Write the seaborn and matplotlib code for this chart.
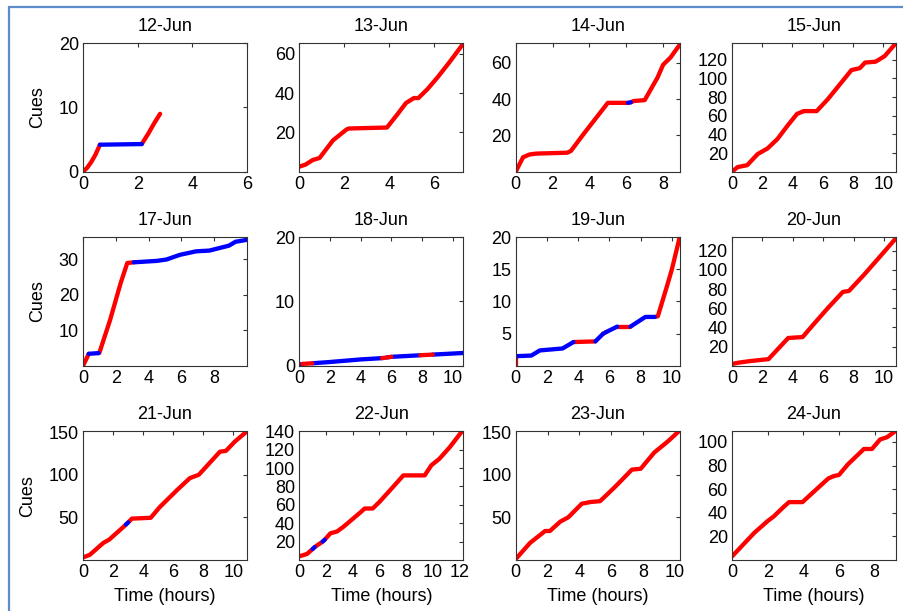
import pandas as pd
import seaborn as sns
import matplotlib.pyplot as plt
from matplotlib.lines import Line2D

# Datos: horas, cues acumulados y color de cada tramo (r/b)
days = ['12-Jun', '13-Jun', '14-Jun', '15-Jun',
        '17-Jun', '18-Jun', '19-Jun', '20-Jun',
        '21-Jun', '22-Jun', '23-Jun', '24-Jun']

hours = [
    [0, 0.15, 0.3, 0.45, 0.62, 2.15, 2.4, 2.6, 2.82],
    [0, 0.27, 0.6, 0.9, 1.5, 2.1, 2.2, 3.9, 4.35, 4.75, 5.1, 5.3, 5.7, 6.15, 6.7, 7.25],
    [0, 0.4, 0.75, 1.1, 2.8, 3.0, 3.7, 5.0, 6.1, 6.25, 6.4, 7.0, 7.7, 8.0, 8.4, 8.9],
    [0, 0.37, 1.0, 1.7, 2.35, 3.0, 3.7, 4.3, 4.75, 5.6, 6.35, 6.8, 7.35, 7.9, 8.45, 8.8, 9.5, 10.1, 10.85],
    [0, 0.25, 0.35, 0.95, 1.0, 1.65, 2.3, 2.7, 3.1, 4.5, 5.1, 5.9, 6.9, 7.7, 8.9, 9.3, 9.95],
    [0, 0.2, 0.85, 2, 4, 5.4, 5.7, 5.85, 6.0, 7.9, 8.7, 10.7],
    [0, 0, 1.0, 1.55, 3.0, 3.7, 5.1, 5.6, 5.75, 6.5, 7.35, 8.3, 8.9, 9.1, 9.7, 10.0, 10.5],
    [0, 0.5, 1.2, 2.4, 3.7, 4.65, 5.3, 6.3, 7.3, 7.7, 8.7, 9.7, 10.8],
    [0, 0.45, 1.35, 1.75, 2.7, 2.85, 3.0, 3.25, 4.5, 5.1, 6.25, 7.1, 7.7, 9.1, 9.5, 10.1, 10.9],
    [0, 0.58, 1.0, 1.15, 1.75, 1.9, 2.33, 2.83, 3.3, 4.6, 4.9, 5.5, 6.0, 7.0, 7.8, 9.4, 9.9, 10.5, 11.3, 12.2],
    [0, 0.9, 1.85, 2.15, 2.8, 3.3, 4.15, 4.7, 5.3, 6.2, 7.3, 7.85, 8.7, 9.55, 10.25],
    [0, 0.5, 1.25, 2.0, 2.35, 2.9, 3.2, 3.95, 4.6, 5.4, 5.7, 6.0, 6.5, 7.4, 7.85, 8.3, 8.7, 9.15],
]

cues = [
    [0, 0.6, 1.5, 2.6, 4.2, 4.3, 6.0, 7.5, 9.0],
    [2.6, 3.6, 6, 7, 16, 21.5, 22, 22.5, 29, 35, 37.5, 37.5, 42, 48, 56, 64.5],
    [0, 8, 9.5, 10, 10.5, 11.5, 21, 38, 38, 38.3, 39, 39.5, 52, 59, 63, 70],
    [0, 5, 7, 19, 25, 35, 50, 62, 65, 65, 78, 87, 98, 109, 111, 117, 118, 124, 138],
    [0, 2.4, 3.4, 3.6, 3.7, 12.9, 23.4, 29, 29.2, 29.6, 30, 31.3, 32.3, 32.5, 33.9, 35, 35.5],
    [0.2, 0.3, 0.4, 0.6, 1.0, 1.2, 1.3, 1.35, 1.4, 1.65, 1.75, 2.0],
    [0, 1.5, 1.6, 2.4, 2.7, 3.7, 3.8, 5.0, 5.2, 6.1, 6.1, 7.6, 7.6, 7.7, 12.5, 15, 20],
    [2, 3.5, 5, 7, 29, 30, 42, 60, 77, 78, 95, 113, 133],
    [3, 6, 20, 24, 39, 41.5, 44, 48.5, 49.5, 62, 82, 96, 100, 127, 128, 139, 151],
    [4, 6.6, 12, 14, 20, 22, 29, 31, 36, 52, 56, 56, 63, 79, 92, 92, 103, 110, 123, 140],
    [1, 20, 34, 34, 45, 50, 66, 68, 69, 85, 106, 107, 126, 139, 151],
    [3, 11, 23, 33, 37, 45, 49, 49, 58, 69, 71, 72, 81, 94, 94, 102, 104, 109],
]

# color de cada tramo entre puntos consecutivos
states = [
    'rrrrbrrr',
    'r' * 15,
    'rrrrrrrrbrrrrrr',
    'r' * 18,
    'rrbrrrrrbbbbbbbb',
    'brbbbrbrbrb',
    'rbbbbrbrbrbbrrrr',
    'r' * 12,
    'rrrrrbrrrrrrrrrr',
    'rrbrbrrrrrrrrrrrrrr',
    'r' * 14,
    'r' * 17,
]

xlims = [6, 7.3, 8.9, 10.85, 10, 10.7, 10.5, 10.8, 10.9, 12.3, 10.3, 9.2]
ylims = [20, 65.5, 71, 138, 36.3, 20, 20, 134, 151, 140, 151, 109]
xticks = [[0, 2, 4, 6], [0, 2, 4, 6], [0, 2, 4, 6, 8], [0, 2, 4, 6, 8, 10],
          [0, 2, 4, 6, 8], [0, 2, 4, 6, 8, 10], [0, 2, 4, 6, 8, 10], [0, 2, 4, 6, 8, 10],
          [0, 2, 4, 6, 8, 10], [0, 2, 4, 6, 8, 10, 12], [0, 2, 4, 6, 8, 10], [0, 2, 4, 6, 8]]
yticks = [[0, 10, 20], [20, 40, 60], [20, 40, 60], [20, 40, 60, 80, 100, 120],
          [10, 20, 30], [0, 10, 20], [5, 10, 15, 20], [20, 40, 60, 80, 100, 120],
          [50, 100, 150], [20, 40, 60, 80, 100, 120, 140], [50, 100, 150], [20, 40, 60, 80, 100]]


def tramos(t, c, s):
    # agrupa tramos consecutivos del mismo color en una sola línea
    recs = []
    run = -1
    for j, col in enumerate(s):
        if j == 0 or col != s[j - 1]:
            run += 1
            recs.append((t[j], c[j], run, col))
        recs.append((t[j + 1], c[j + 1], run, col))
    return pd.DataFrame(recs, columns=['hours', 'cues', 'run', 'state'])


sns.set_theme(style='white')
plt.rcParams['font.family'] = ['Liberation Sans', 'DejaVu Sans']
plt.rcParams['axes.edgecolor'] = '#333333'
plt.rcParams['axes.linewidth'] = 0.8
plt.rcParams['text.color'] = 'black'
plt.rcParams['axes.labelcolor'] = 'black'

fs = 13

fig, axes = plt.subplots(3, 4, figsize=(9.04, 6.11), dpi=100)
fig.subplots_adjust(left=0.0918, right=0.9912, top=0.9296, bottom=0.0835,
                    wspace=0.319, hspace=0.508)

for k, ax in enumerate(axes.flat):
    df = tramos(hours[k], cues[k], states[k])
    sns.lineplot(data=df, x='hours', y='cues', hue='state', units='run',
                 estimator=None, sort=False, legend=False,
                 palette={'r': '#ff0000', 'b': '#0000ff'},
                 linewidth=3.1, solid_capstyle='round', ax=ax)
    ax.set_xlim(0, xlims[k])
    ax.set_ylim(0, ylims[k])
    ax.set_xticks(xticks[k])
    ax.set_yticks(yticks[k])
    ax.tick_params(direction='in', length=3, width=0.8, top=True, right=True,
                   labelsize=fs, colors='#333333', labelcolor='black', pad=3)
    ax.set_title(days[k], fontsize=fs, pad=9, color='black')
    ax.set_xlabel('Time (hours)' if k >= 8 else '', fontsize=fs, labelpad=5)
    ax.set_ylabel('Cues' if k % 4 == 0 else '', fontsize=fs, labelpad=9)

# marco azul de la captura original
fig.add_artist(Line2D([9 / 904, 9 / 904], [0, 1 - 7 / 611], transform=fig.transFigure,
                      color='#5b8bc9', lw=1.6))
fig.add_artist(Line2D([9 / 904, 1], [1 - 7 / 611, 1 - 7 / 611], transform=fig.transFigure,
                      color='#5b8bc9', lw=1.6))

plt.savefig('out.png', dpi=100)
